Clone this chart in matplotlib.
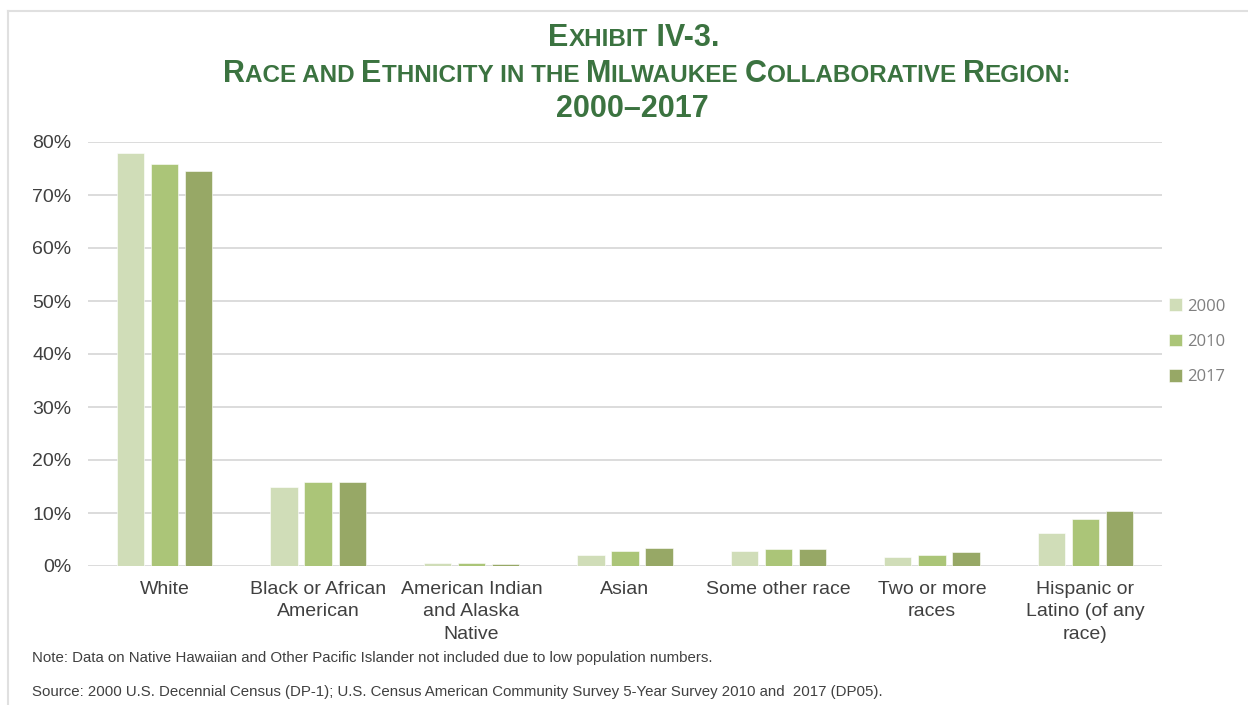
import matplotlib.pyplot as plt
import numpy as np
from matplotlib.lines import Line2D

categories = ['White', 'Black or African\nAmerican', 'American Indian\nand Alaska\nNative',
              'Asian', 'Some other race', 'Two or more\nraces', 'Hispanic or\nLatino (of any\nrace)']
years = ['2000', '2010', '2017']
pct_2000 = [78.0, 14.9, 0.5, 2.1, 2.8, 1.7, 6.2]
pct_2010 = [75.8, 15.8, 0.5, 2.8, 3.2, 2.1, 8.8]
pct_2017 = [74.5, 15.8, 0.4, 3.4, 3.2, 2.6, 10.3]
colors = ['#d0ddb8', '#abc578', '#97a866']

title_green = '#3b7340'
text_gray = '#404040'

fig = plt.figure(figsize=(12.48, 7.05), dpi=100)
ax = fig.add_axes([88 / 1248, 1 - 566 / 705, (1162 - 88) / 1248, (566 - 142) / 705])

x = np.arange(len(categories))
w = 0.178
step = 0.222
for i, (vals, c, yr) in enumerate(zip([pct_2000, pct_2010, pct_2017], colors, years)):
    ax.bar(x + (i - 1) * step, vals, width=w, color=c, edgecolor='white',
           linewidth=0.4, label=yr, zorder=3)

ax.set_xlim(-0.5, len(categories) - 0.5)
ax.set_ylim(0, 80)
ax.set_yticks(np.arange(0, 81, 10))
ax.set_yticklabels([f'{v}%' for v in range(0, 81, 10)], fontsize=14,
                   color=text_gray, family='Liberation Sans')
ax.set_xticks(x)
ax.set_xticklabels(categories, fontsize=14, color=text_gray,
                   family='Liberation Sans', linespacing=1.4, va='top')
ax.tick_params(axis='both', length=0)
ax.tick_params(axis='y', pad=12)
ax.tick_params(axis='x', pad=11)
ax.grid(axis='y', color='#d9d9d9', linewidth=1.3, zorder=0)
for s in ax.spines.values():
    s.set_visible(False)

leg = ax.legend(loc='upper left', bbox_to_anchor=(1.0, 0.647), frameon=False,
                borderaxespad=0, handlelength=0.8, handleheight=0.8, handletextpad=0.3,
                labelspacing=1.15, prop={'family': 'Open Sans', 'size': 12})
for t in leg.get_texts():
    t.set_color('#7f7f7f')

# title lines drawn as small caps: big letters and reduced-size runs
def small_caps_line(y, cx, parts, big=22, small=17.5):
    renderer = fig.canvas.get_renderer()
    texts = []
    for s, is_big in parts:
        t = fig.text(0, y, s, fontsize=big if is_big else small, fontweight='bold',
                     color=title_green, family='Liberation Sans', va='baseline')
        texts.append(t)
    widths = [t.get_window_extent(renderer).width for t in texts]
    pos = cx - sum(widths) / 2
    for t, wd in zip(texts, widths):
        t.set_x(pos / 1248)
        pos += wd

small_caps_line(1 - 46 / 705, 634, [('E', True), ('XHIBIT', False), (' IV-3.', True)])
small_caps_line(1 - 82 / 705, 647, [('R', True), ('ACE AND ', False), ('E', True),
                                    ('THNICITY IN THE ', False), ('M', True),
                                    ('ILWAUKEE ', False), ('C', True),
                                    ('OLLABORATIVE ', False), ('R', True), ('EGION:', False)])
small_caps_line(1 - 117 / 705, 632, [('2000\u20132017', True)])

fig.text(32 / 1248, 1 - 658 / 705, 'Note: Data on Native Hawaiian and Other Pacific Islander not included due to low population numbers.',
         fontsize=10.8, color=text_gray, family='Liberation Sans', va='center')
fig.text(32 / 1248, 1 - 692 / 705, 'Source: 2000 U.S. Decennial Census (DP-1); U.S. Census American Community Survey 5-Year Survey 2010 and  2017 (DP05).',
         fontsize=10.8, color=text_gray, family='Liberation Sans', va='center')

# light frame along the top and left edges
fig.add_artist(Line2D([8 / 1248, 8 / 1248], [0, 1 - 11 / 705], color='#e0e0e0',
                      linewidth=1.5, transform=fig.transFigure))
fig.add_artist(Line2D([8 / 1248, 1], [1 - 11 / 705, 1 - 11 / 705], color='#e0e0e0',
                      linewidth=1.5, transform=fig.transFigure))

fig.savefig('out.png', dpi=100)
